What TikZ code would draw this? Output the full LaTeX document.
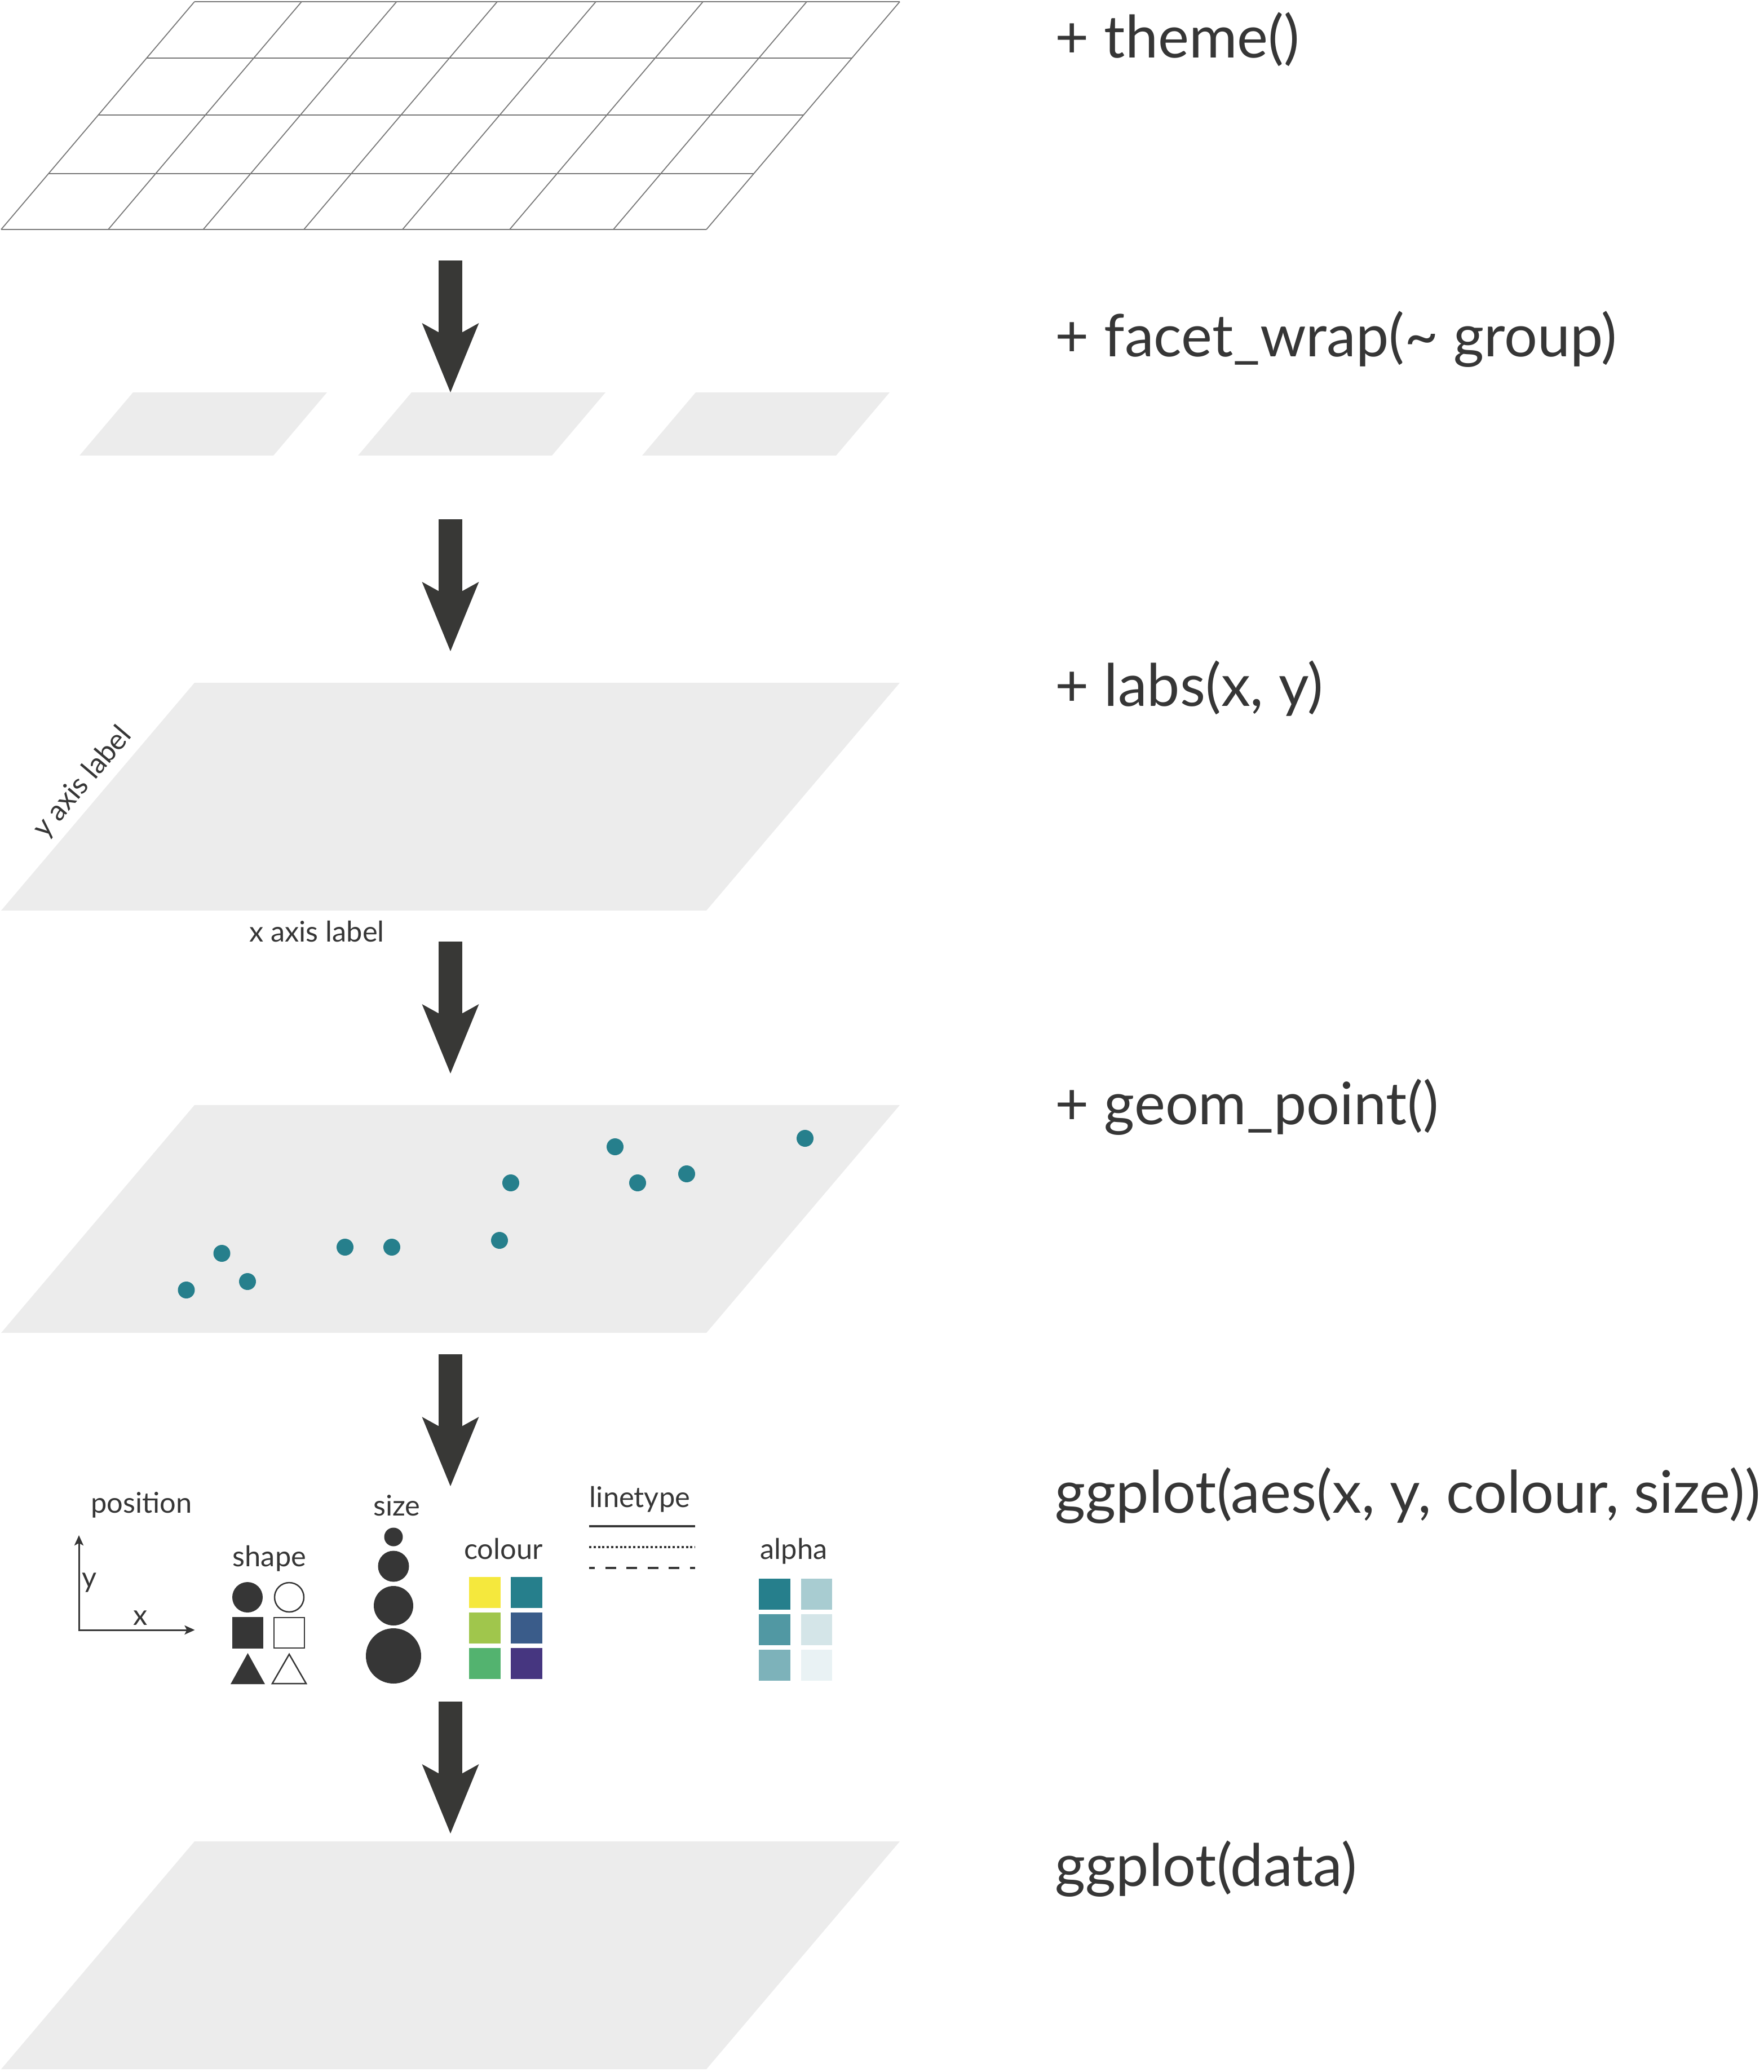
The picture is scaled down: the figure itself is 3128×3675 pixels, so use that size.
\documentclass[tikz,border=0pt]{standalone}
\usepackage{fontspec}
\setmainfont{Lato}
\usepackage{tikz}
\usetikzlibrary{arrows.meta, positioning}
\usepackage{xcolor}
\definecolor{cInk}{RGB}{54,54,54}
\definecolor{cArrow}{RGB}{56,56,54}
\definecolor{cPanel}{RGB}{236,236,236}
\definecolor{cGrid}{RGB}{120,120,120}
\definecolor{cTeal}{RGB}{38,127,140}
\definecolor{cYel}{RGB}{245,232,61}
\definecolor{cLime}{RGB}{160,198,76}
\definecolor{cBlueV}{RGB}{58,92,138}
\definecolor{cGreenV}{RGB}{83,179,111}
\definecolor{cPurpV}{RGB}{70,54,128}
\tikzset{
  panel/.style={fill=cPanel},
  gridline/.style={draw=cGrid, line width=0.18mm},
  layerarrow/.style={-{Stealth[length=12.3mm, width=10.1mm, inset=2.8mm, line width=0pt]},
                     line width=4.2mm, draw=cArrow},
  axisline/.style={{Stealth[length=1.8mm, width=1.6mm, inset=0.4mm]}-{Stealth[length=1.8mm, width=1.6mm, inset=0.4mm]},
                   line width=0.3mm, draw=cInk},
  datapoint/.style={fill=cTeal},
  inkshape/.style={fill=cInk},
  openshape/.style={draw=cInk, line width=0.25mm},
  linekey/.style={draw=cInk, line width=0.4mm},
  codetext/.style={anchor=base west, inner sep=0, text=cInk,
                   font=\fontsize{29.6}{35}\selectfont},
  labeltext/.style={anchor=base, inner sep=0, text=cInk,
                    font=\fontsize{14.4}{17}\selectfont}
}
\begin{document}
\begin{tikzpicture}[x=0.1mm, y=-0.1mm]
  \useasboundingbox (0,0) rectangle (3128,3675);

  % theme() grid
  \foreach \xb in {2,192,360.5,539,714,904,1088,1253}
    \draw[gridline] (\xb,407) -- ++(343,-404);
  \foreach \yy in {3,103,204,308,407}
    \draw[gridline] ({2+0.849*(407-\yy)},\yy) -- ++(1251,0);

  % facet panels
  \foreach \xb in {141,635,1139}
    \fill[panel] (\xb,808) -- ++(344,0) -- ++(95,-112) -- ++(-344,0) -- cycle;

  % labs, geom_point and data layers
  \foreach \yb in {1615,2364,3670}
    \fill[panel] (2,\yb) -- ++(1251,0) -- ++(343,-404) -- ++(-1251,0) -- cycle;

  \node[labeltext, rotate=49.7, anchor=center] (ylab) at (147,1388) {y axis label};
  \node[labeltext] (xlab) at (562,1670) {x axis label};

  % points
  \foreach \px/\py in {330.5/2288, 393.5/2223, 439/2273, 612/2212, 695/2212,
                       886/2200, 906/2098, 1091/2034, 1131/2098, 1218/2082, 1428/2019}
    \fill[datapoint] (\px,\py) circle[radius=15];

  % arrows between layers
  \coordinate (a1s) at (799,462);  \coordinate (a1e) at (799,696);
  \coordinate (a2s) at (799,921);  \coordinate (a2e) at (799,1155);
  \coordinate (a3s) at (799,1670); \coordinate (a3e) at (799,1904);
  \coordinate (a4s) at (799,2402); \coordinate (a4e) at (799,2636);
  \coordinate (a5s) at (799,3018); \coordinate (a5e) at (799,3252);
  \draw[layerarrow] (a1s) -- (a1e);
  \draw[layerarrow] (a2s) -- (a2e);
  \draw[layerarrow] (a3s) -- (a3e);
  \draw[layerarrow] (a4s) -- (a4e);
  \draw[layerarrow] (a5s) -- (a5e);

  % aesthetics legend
  \node[labeltext] (pos-title) at (251,2683) {position};
  \coordinate (ax-o) at (140,2891);
  \coordinate (ax-ytip) at (140,2723);
  \coordinate (ax-xtip) at (345.5,2891);
  \draw[axisline] (ax-ytip) -- (ax-o) -- (ax-xtip);
  \node[labeltext] (ax-y) at (159,2815) {y};
  \node[labeltext] (ax-x) at (249,2882) {x};

  \node[labeltext] (shape-title) at (478,2778) {shape};
  \fill[inkshape] (439,2833) circle[radius=27];
  \draw[openshape] (513,2833) circle[radius=26];
  \fill[inkshape] (411.6,2868) rectangle (467,2924);
  \draw[openshape] (486,2869) rectangle (540,2923);
  \fill[inkshape] (409,2987) -- (470,2987) -- (439.5,2932) -- cycle;
  \draw[openshape] (483,2986) -- (543,2986) -- (513,2934) -- cycle;

  \node[labeltext] (size-title) at (704,2688) {size};
  \fill[inkshape] (698,2726) circle[radius=16.5];
  \fill[inkshape] (698,2778) circle[radius=27.5];
  \fill[inkshape] (698,2848) circle[radius=35];
  \fill[inkshape] (698,2937) circle[radius=49];

  \node[labeltext] (colour-title) at (893,2765) {colour};
  \fill[cYel]    (832,2797) rectangle (887.5,2852);
  \fill[cTeal]   (906,2797) rectangle (962,2852);
  \fill[cLime]   (832,2860) rectangle (887.5,2915);
  \fill[cBlueV]  (906,2860) rectangle (962,2915);
  \fill[cGreenV] (832,2923) rectangle (887.5,2978);
  \fill[cPurpV]  (906,2923) rectangle (962,2978);

  \node[labeltext] (lt-title) at (1135,2673) {linetype};
  \draw[linekey] (1045,2707) -- (1233,2707);
  \draw[linekey, dash pattern=on 0.4mm off 0.38mm] (1045,2744) -- (1233,2744);
  \draw[linekey, dash pattern=on 1.9mm off 1.85mm, dash phase=0.9mm] (1045,2781) -- (1233,2781);

  \node[labeltext] (alpha-title) at (1408,2765) {alpha};
  \fill[cTeal]          (1346,2800) rectangle (1402,2855);
  \fill[cTeal!40!white] (1421,2800) rectangle (1476,2855);
  \fill[cTeal!80!white] (1346,2863) rectangle (1402,2918);
  \fill[cTeal!20!white] (1421,2863) rectangle (1476,2918);
  \fill[cTeal!60!white] (1346,2926) rectangle (1402,2981);
  \fill[cTeal!10!white] (1421,2926) rectangle (1476,2981);

  % layer code
  \node[codetext] (code-theme) at (1871,103) {+ theme()};
  \node[codetext] (code-facet) at (1871,633) {+ facet\_wrap(\textasciitilde{} group)};
  \node[codetext] (code-labs) at (1871,1252) {+ labs(x, y)};
  \node[codetext] (code-geom) at (1871,1994) {+ geom\_point()};
  \node[codetext] (code-aes) at (1871,2683) {ggplot(aes(x, y, colour, size))};
  \node[codetext] (code-data) at (1871,3345) {ggplot(data)};
\end{tikzpicture}
\end{document}
